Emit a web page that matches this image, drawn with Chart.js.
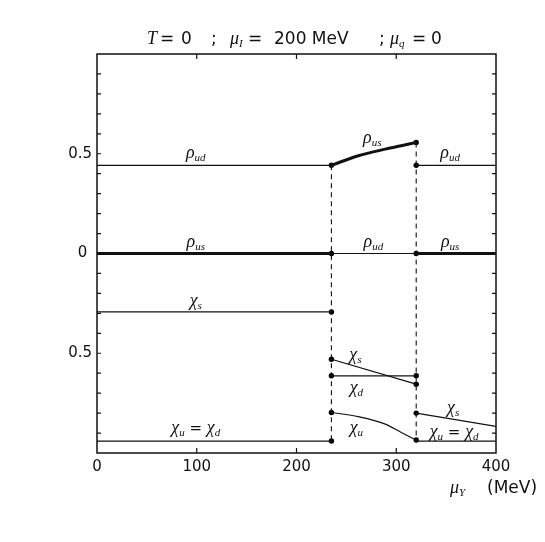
<!DOCTYPE html>
<html><head><meta charset="utf-8">
<script src="https://cdn.jsdelivr.net/npm/chart.js@4"></script>
<style>html,body{margin:0;padding:0;background:#fff}</style>
</head><body>
<canvas id="c" width="545" height="542"></canvas>
<script>
// ---- data (μ_Y in MeV, plotted value) ----
const xTickValues = [0, 100, 200, 300, 400];
const yTickValues = [-0.5, 0, 0.5];
const transitionX = [235, 320];
const transitionTop = [0.442, 0.557];
const transitionBottom = [-0.94, -0.94];

const rhoUd1X = [0, 235],            rhoUd1Y = [0.442, 0.442];
const rhoUsCurveX = [235, 262, 289, 305, 320], rhoUsCurveY = [0.442, 0.49, 0.523, 0.54, 0.557];
const rhoUd2X = [320, 400],          rhoUd2Y = [0.442, 0.442];
const rhoUsZero1X = [0, 235],        rhoUsZero1Y = [0, 0];
const rhoUdZeroX = [235, 320],       rhoUdZeroY = [0, 0];
const rhoUsZero2X = [320, 400],      rhoUsZero2Y = [0, 0];
const chiS1X = [0, 235],             chiS1Y = [-0.293, -0.293];
const chiS2X = [235, 320],           chiS2Y = [-0.53, -0.655];
const chiS3X = [320, 400],           chiS3Y = [-0.80, -0.867];
const chiDX = [235, 320],            chiDY = [-0.613, -0.613];
const chiUX = [235, 262, 289, 305, 320], chiUY = [-0.797, -0.818, -0.855, -0.897, -0.935];
const chiUD1X = [0, 235],            chiUD1Y = [-0.94, -0.94];
const chiUD2X = [320, 400],          chiUD2Y = [-0.94, -0.94];
const dotX = [235,235,235,235,235,235,235, 320,320,320,320,320,320,320];
const dotY = [0.442,0,-0.293,-0.53,-0.613,-0.797,-0.94, 0.557,0.442,0,-0.655,-0.613,-0.80,-0.935];

// curve labels: [symbol, subscript, second subscript (for "= χ_d"), x, y]
const curveLabels = [
  ['ρ','ud',null, 99, 0.505], ['ρ','us',null, 99, 0.06], ['χ','s',null, 99, -0.24],
  ['ρ','us',null, 276, 0.58], ['ρ','ud',null, 354, 0.505],
  ['ρ','ud',null, 277, 0.06], ['ρ','us',null, 354, 0.06],
  ['χ','s',null, 259, -0.51], ['χ','d',null, 260, -0.675], ['χ','u',null, 260, -0.875],
  ['χ','s',null, 357, -0.775],
  ['χ','u','d', 358, -0.895], ['χ','u','d', 99, -0.875]
];

const pts = (xs, ys) => xs.map((x, i) => ({x, y: ys[i]}));
const THIN = 1.2, THICK = 3;
function line(xs, ys, w, extra) {
  return Object.assign({data: pts(xs, ys), showLine: true, borderColor: '#111', borderWidth: w,
    pointRadius: 0, fill: false, tension: 0}, extra || {});
}
const curve = {cubicInterpolationMode: 'monotone'};
const datasets = [
  line(rhoUd1X, rhoUd1Y, THIN),
  line(rhoUsCurveX, rhoUsCurveY, THICK, curve),
  line(rhoUd2X, rhoUd2Y, THIN),
  line(rhoUsZero1X, rhoUsZero1Y, THICK),
  line(rhoUdZeroX, rhoUdZeroY, THIN),
  line(rhoUsZero2X, rhoUsZero2Y, THICK),
  line(chiS1X, chiS1Y, THIN),
  line(chiS2X, chiS2Y, THIN),
  line(chiS3X, chiS3Y, THIN),
  line(chiDX, chiDY, THIN),
  line(chiUX, chiUY, THIN, curve),
  line(chiUD1X, chiUD1Y, THIN),
  line(chiUD2X, chiUD2Y, THIN),
];
transitionX.forEach((x, i) => datasets.push(line([x, x], [transitionTop[i], transitionBottom[i]], 1.1, {borderDash: [5, 4]})));
datasets.push({data: pts(dotX, dotY), showLine: false, pointRadius: 2.7, pointBackgroundColor: '#000', pointBorderWidth: 0});

const SANS = '"DejaVu Sans", sans-serif';
const SERIF = '"Liberation Serif", "DejaVu Serif", serif';

function drawRuns(ctx, runs, cx, cy, align) {
  // runs: [text, font, dy, absoluteX?]
  let w = 0;
  runs.forEach(r => { ctx.font = r[1]; w += ctx.measureText(r[0]).width; });
  let x = align === 'left' ? cx : cx - w / 2;
  ctx.textBaseline = 'alphabetic'; ctx.textAlign = 'left';
  runs.forEach(r => {
    if (r[3] !== undefined) x = r[3];
    ctx.font = r[1]; ctx.fillText(r[0], x, cy + (r[2] || 0)); x += ctx.measureText(r[0]).width;
  });
}
const G = 'italic 18px ' + SERIF, SUB = 'italic 11px ' + SERIF, EQ = '15px ' + SANS;

const deco = {
  id: 'deco',
  afterDraw(chart) {
    const {ctx, chartArea: a, scales: {x, y}} = chart;
    ctx.save();
    ctx.fillStyle = '#111'; ctx.strokeStyle = '#111';
    // frame
    ctx.lineWidth = 1.5;
    ctx.strokeRect(a.left, a.top, a.right - a.left, a.bottom - a.top);
    // inward ticks
    ctx.lineWidth = 1.2;
    ctx.beginPath();
    [100, 200, 300].forEach(v => {
      const px = x.getPixelForValue(v);
      ctx.moveTo(px, a.bottom); ctx.lineTo(px, a.bottom - 5);
      ctx.moveTo(px, a.top); ctx.lineTo(px, a.top + 5);
    });
    for (let k = -9; k <= 9; k++) {
      const py = y.getPixelForValue(k / 10);
      ctx.moveTo(a.left, py); ctx.lineTo(a.left + 4, py);
      ctx.moveTo(a.right, py); ctx.lineTo(a.right - 4, py);
    }
    ctx.stroke();
    // curve labels
    curveLabels.forEach(l => {
      const cx = x.getPixelForValue(l[3]), cy = y.getPixelForValue(l[4]) + 5;
      const runs = [[l[0], G, 0], [l[1], SUB, 3]];
      if (l[2]) runs.push([' = ', EQ, 0], [l[0], G, 0], [l[2], SUB, 3]);
      drawRuns(ctx, runs, cx, cy);
    });
    // title
    const T = '17px ' + SANS, E = '17px ' + SANS;
    drawRuns(ctx, [['T', G, 0, 147], ['=', E, 0, 160], ['0', T, 0, 181], [';', T, 0, 211],
      ['μ', G, 0, 230], ['I', SUB, 3], ['=', E, 0, 248], ['200 MeV', T, 0, 274], [';', T, 0, 379],
      ['μ', G, 0, 390], ['q', SUB, 3], ['=', E, 0, 412], ['0', T, 0, 431]], 0, 44, 'left');
    // x axis title
    drawRuns(ctx, [['μ', G, 0, 450], ['Y', SUB, 3], ['(MeV)', '17px ' + SANS, 0, 487]], 0, 493, 'left');
    ctx.restore();
  }
};

new Chart(document.getElementById('c'), {
  type: 'scatter',
  data: {datasets},
  options: {
    responsive: false, animation: false, devicePixelRatio: 1,
    layout: {padding: {top: 54, right: 49, bottom: 0, left: 0}},
    plugins: {legend: {display: false}, tooltip: {enabled: false}},
    scales: {
      x: {type: 'linear', min: 0, max: 400,
        afterBuildTicks: s => { s.ticks = xTickValues.map(v => ({value: v})); },
        afterFit: s => { s.height = 89; },
        grid: {display: false, drawTicks: false}, border: {display: false},
        ticks: {padding: 5, color: '#111', font: {family: SANS, size: 15}, maxRotation: 0}},
      y: {type: 'linear', min: -1, max: 1,
        afterBuildTicks: s => { s.ticks = yTickValues.map(v => ({value: v})); },
        afterFit: s => { s.width = 97; },
        grid: {display: false, drawTicks: false}, border: {display: false},
        ticks: {padding: 5, color: '#111', font: {family: SANS, size: 15},
          callback: v => v === 0 ? '0 ' : Math.abs(v).toFixed(1)}}
    }
  },
  plugins: [deco]
});
</script>
</body></html>
